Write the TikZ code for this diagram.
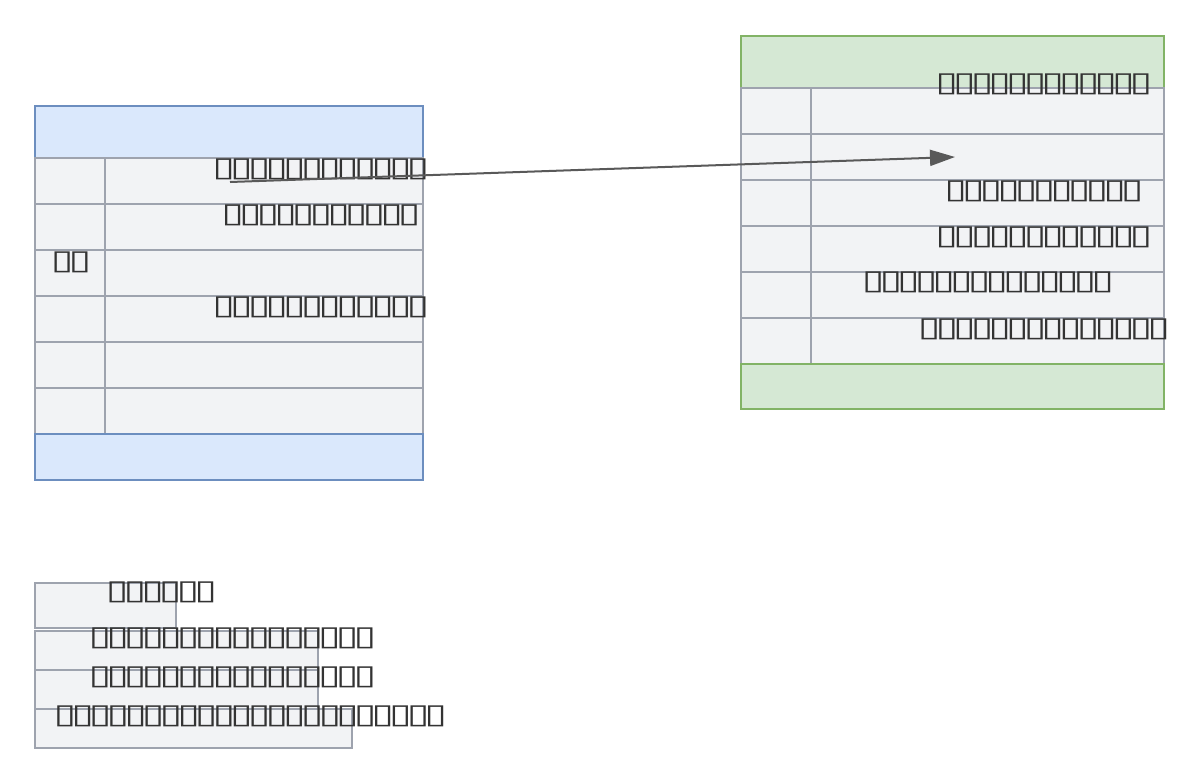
\documentclass[tikz,border=0pt]{standalone}
\usepackage{fontspec}
\usetikzlibrary{arrows.meta}
\newfontfamily\tofufont[FakeStretch=1.5,LetterSpace=-18.3]{DejaVu Sans}
\definecolor{rowfill}{HTML}{F2F3F5}
\definecolor{rowline}{HTML}{9EA3AE}
\definecolor{bluefill}{HTML}{DAE8FC}
\definecolor{blueline}{HTML}{6C8EBF}
\definecolor{greenfill}{HTML}{D5E8D4}
\definecolor{greenline}{HTML}{82B366}
\definecolor{txt}{HTML}{333333}
\definecolor{arrowc}{HTML}{595959}
\tikzset{
  cell/.style={draw=rowline, fill=rowfill, line width=2pt, anchor=north west, inner sep=0pt, outer sep=0pt},
  bluebox/.style={draw=blueline, fill=bluefill, line width=2pt, anchor=north west, inner sep=0pt, outer sep=0pt},
  greenbox/.style={draw=greenline, fill=greenfill, line width=2pt, anchor=north west, inner sep=0pt, outer sep=0pt},
  lbl/.style={text=txt, inner sep=0pt, font=\tofufont\fontsize{27.5}{27.5}\selectfont},
  conn/.style={draw=arrowc, line width=2pt, -{Triangle[length=25pt,width=16pt]}},
}
\begin{document}
\begin{tikzpicture}[x=1pt,y=-1pt]
\useasboundingbox (0,0) rectangle (1200,784);
% left entity
\node[bluebox, minimum width=388pt, minimum height=52pt] (Lh) at (35,106) {};
\foreach \i/\y in {1/158,2/204,3/250,4/296,5/342,6/388}{
  \node[cell, minimum width=70pt, minimum height=46pt] (Lt\i) at (35,\y) {};
  \node[cell, minimum width=318pt, minimum height=46pt] (Ln\i) at (105,\y) {};
}
\node[bluebox, minimum width=388pt, minimum height=46pt] (Lf) at (35,434) {};
% right entity
\node[greenbox, minimum width=423pt, minimum height=52pt] (Rh) at (741,36) {};
\foreach \i/\y in {1/88,2/134,3/180,4/226,5/272,6/318}{
  \node[cell, minimum width=70pt, minimum height=46pt] (Rt\i) at (741,\y) {};
  \node[cell, minimum width=353pt, minimum height=46pt] (Rn\i) at (811,\y) {};
}
\node[greenbox, minimum width=423pt, minimum height=45pt] (Rf) at (741,364) {};
% legend boxes
\node[cell, minimum width=141pt, minimum height=45pt] (B1) at (35,583) {};
\node[cell, minimum width=283pt, minimum height=39pt] (B2) at (35,631) {};
\node[cell, minimum width=283pt, minimum height=39pt] (B3) at (35,670) {};
\node[cell, minimum width=317pt, minimum height=39pt] (B4) at (35,709) {};
% labels
\node[lbl] (t1) at (321,169.5) {▯▯▯▯▯▯▯▯▯▯▯▯};
\node[lbl] (t2) at (321,215) {▯▯▯▯▯▯▯▯▯▯▯};
\node[lbl] (t3) at (71,262) {▯▯};
\node[lbl] (t4) at (321,307) {▯▯▯▯▯▯▯▯▯▯▯▯};
\node[lbl] (r0) at (1044,84.5) {▯▯▯▯▯▯▯▯▯▯▯▯};
\node[lbl] (r2) at (1044,191) {▯▯▯▯▯▯▯▯▯▯▯};
\node[lbl] (r3) at (1044,237) {▯▯▯▯▯▯▯▯▯▯▯▯};
\node[lbl] (r4) at (988,282) {▯▯▯▯▯▯▯▯▯▯▯▯▯▯};
\node[lbl] (r5) at (1044,329) {▯▯▯▯▯▯▯▯▯▯▯▯▯▯};
\node[lbl] (g1) at (161.5,592) {▯▯▯▯▯▯};
\node[lbl] (g2) at (232.5,638.5) {▯▯▯▯▯▯▯▯▯▯▯▯▯▯▯▯};
\node[lbl] (g3) at (232.5,677.5) {▯▯▯▯▯▯▯▯▯▯▯▯▯▯▯▯};
\node[lbl] (g4) at (250.5,716.5) {▯▯▯▯▯▯▯▯▯▯▯▯▯▯▯▯▯▯▯▯▯▯};
% connector
\coordinate (a1) at (230,182);
\coordinate (a2) at (955,157);
\draw[conn] (a1) -- (a2);
\end{tikzpicture}
\end{document}
